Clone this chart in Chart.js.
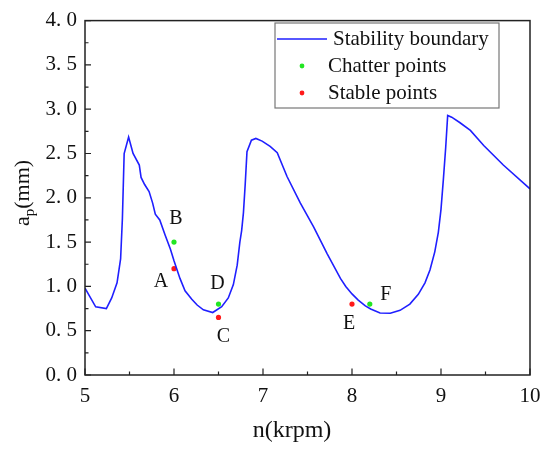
<!DOCTYPE html>
<html>
<head>
<meta charset="utf-8">
<script src="https://cdn.jsdelivr.net/npm/chart.js@4.4.1/dist/chart.umd.min.js"></script>
<style>
  html, body { margin: 0; padding: 0; background: #fff; }
  #chart { display: block; }
</style>
</head>
<body>
<canvas id="chart" width="550" height="452"></canvas>
<script>
// stability lobe
var boundaryN = [5.0, 5.12, 5.24, 5.30, 5.36, 5.40, 5.42, 5.44, 5.49, 5.54, 5.61, 5.63, 5.67, 5.72, 5.76,
  5.79, 5.84, 5.90, 5.96, 6.0, 6.067, 6.124, 6.20, 6.26, 6.33, 6.435, 6.536, 6.61, 6.667, 6.71, 6.74,
  6.76, 6.78, 6.80, 6.82, 6.87, 6.92, 6.99, 7.08, 7.16, 7.27, 7.42, 7.57, 7.72, 7.87, 7.93, 8.00, 8.07,
  8.15, 8.21, 8.315, 8.43, 8.54, 8.65, 8.745, 8.82, 8.876, 8.93, 8.97, 9.0, 9.026, 9.053, 9.075, 9.12,
  9.21, 9.33, 9.48, 9.70, 10.0];
var boundaryAp = [0.98, 0.77, 0.75, 0.87, 1.04, 1.31, 1.76, 2.50, 2.685, 2.50, 2.37, 2.23, 2.15, 2.07, 1.94,
  1.815, 1.75, 1.58, 1.42, 1.29, 1.09, 0.95, 0.855, 0.79, 0.735, 0.705, 0.77, 0.87, 1.02, 1.24, 1.50,
  1.63, 1.83, 2.15, 2.52, 2.65, 2.67, 2.64, 2.58, 2.51, 2.24, 1.94, 1.67, 1.37, 1.09, 1.0, 0.915, 0.845,
  0.78, 0.745, 0.70, 0.697, 0.73, 0.80, 0.91, 1.04, 1.185, 1.39, 1.61, 1.87, 2.20, 2.57, 2.93, 2.91,
  2.85, 2.76, 2.59, 2.37, 2.10];

var chatterN = [6.0, 6.5, 8.2];
var chatterAp = [1.5, 0.8, 0.8];
var chatterNames = ["B", "D", "F"];

var stableN = [6.0, 6.5, 8.0];
var stableAp = [1.2, 0.65, 0.8];
var stableNames = ["A", "C", "E"];

var xTicks = [5, 6, 7, 8, 9, 10];
var yTicks = [0, 0.5, 1, 1.5, 2, 2.5, 3, 3.5, 4];

var serif = "'Liberation Serif', 'Times New Roman', serif";

function toPoints(xs, ys) {
  return xs.map(function (x, i) { return { x: x, y: ys[i] }; });
}

// where each letter sits relative to its dot (px)
var nameOffsets = { A: [-13, 13], B: [2, -23], C: [5, 19], D: [-1, -20], E: [-3, 20], F: [16, -9] };

var framePlugin = {
  id: "frame",
  afterDatasetsDraw: function (chart) {
    var ctx = chart.ctx;
    var a = chart.chartArea;
    var xs = chart.scales.x, ys = chart.scales.y;
    ctx.save();

    // box round the plot
    ctx.strokeStyle = "#222";
    ctx.lineWidth = 1.5;
    ctx.strokeRect(a.left, a.top, a.right - a.left, a.bottom - a.top);

    // inward ticks, left and bottom only
    ctx.lineWidth = 1.2;
    ctx.beginPath();
    for (var v = 0; v <= 4.001; v += 0.25) {
      var py = ys.getPixelForValue(v);
      var major = Math.abs(v * 2 - Math.round(v * 2)) < 0.01;
      ctx.moveTo(a.left, py);
      ctx.lineTo(a.left + (major ? 6 : 3.5), py);
    }
    for (var n = 5; n <= 10.001; n += 0.5) {
      var px = xs.getPixelForValue(n);
      var maj = Math.abs(n - Math.round(n)) < 0.01;
      ctx.moveTo(px, a.bottom);
      ctx.lineTo(px, a.bottom - (maj ? 6.5 : 3.5));
    }
    ctx.stroke();

    // point letters
    ctx.fillStyle = "#111";
    ctx.font = "20px " + serif;
    ctx.textAlign = "center";
    ctx.textBaseline = "middle";
    function letters(nx, ay, names) {
      names.forEach(function (name, i) {
        var off = nameOffsets[name];
        ctx.fillText(name, xs.getPixelForValue(nx[i]) + off[0], ys.getPixelForValue(ay[i]) + off[1]);
      });
    }
    letters(chatterN, chatterAp, chatterNames);
    letters(stableN, stableAp, stableNames);

    // legend
    var ds = chart.data.datasets;
    ctx.fillStyle = "#fff";
    ctx.fillRect(275, 23, 224, 85);
    ctx.strokeStyle = "#777";
    ctx.lineWidth = 1.2;
    ctx.strokeRect(275, 23, 224, 85);

    ctx.strokeStyle = ds[0].borderColor;
    ctx.lineWidth = 1.6;
    ctx.beginPath();
    ctx.moveTo(277, 39);
    ctx.lineTo(327, 39);
    ctx.stroke();

    ctx.fillStyle = ds[1].backgroundColor;
    ctx.beginPath();
    ctx.arc(302, 66, 2.4, 0, Math.PI * 2);
    ctx.fill();
    ctx.fillStyle = ds[2].backgroundColor;
    ctx.beginPath();
    ctx.arc(302, 93, 2.4, 0, Math.PI * 2);
    ctx.fill();

    ctx.fillStyle = "#111";
    ctx.font = "21px " + serif;
    ctx.textAlign = "left";
    ctx.textBaseline = "middle";
    ctx.fillText(ds[0].label, 333, 39);
    ctx.fillText(ds[1].label, 328, 66);
    ctx.fillText(ds[2].label, 328, 93);

    // axis titles
    ctx.textBaseline = "alphabetic";
    ctx.textAlign = "center";
    ctx.font = "24px " + serif;
    ctx.fillText("n(krpm)", 292, 437);

    ctx.translate(29, 193);
    ctx.rotate(-Math.PI / 2);
    ctx.textAlign = "left";
    var big = "22px " + serif, small = "15px " + serif;
    ctx.font = big;
    var wa = ctx.measureText("a").width;
    var wm = ctx.measureText("(mm)").width;
    ctx.font = small;
    var wp = ctx.measureText("p").width;
    var x0 = -(wa + wp + wm) / 2;
    ctx.font = big;
    ctx.fillText("a", x0, 0);
    ctx.font = small;
    ctx.fillText("p", x0 + wa, 5);
    ctx.font = big;
    ctx.fillText("(mm)", x0 + wa + wp, 0);

    ctx.restore();
  }
};

var ctx = document.getElementById("chart").getContext("2d");
var lobeChart = new Chart(ctx, {
  type: "scatter",
  data: {
    datasets: [
      {
        label: "Stability boundary",
        data: toPoints(boundaryN, boundaryAp),
        showLine: true,
        borderColor: "#1f1fff",
        borderWidth: 1.6,
        pointRadius: 0,
        tension: 0,
        fill: false,
      },
      {
        label: "Chatter points",
        data: toPoints(chatterN, chatterAp),
        backgroundColor: "#22e622",
        borderWidth: 0,
        pointRadius: 2.6,
      },
      {
        label: "Stable points",
        data: toPoints(stableN, stableAp),
        backgroundColor: "#ff1a1a",
        borderWidth: 0,
        pointRadius: 2.6,
      },
    ],
  },
  options: {
    responsive: false,
    animation: false,
    devicePixelRatio: 1,
    layout: { padding: { left: 0, right: 20, top: 15, bottom: 0 } },
    plugins: {
      legend: { display: false },
      tooltip: { enabled: false },
    },
    scales: {
      x: {
        type: "linear",
        min: 5,
        max: 10,
        afterBuildTicks: function (s) { s.ticks = xTicks.map(function (v) { return { value: v }; }); },
        afterFit: function (s) { s.height = 77; },
        ticks: { font: { family: serif, size: 21 }, color: "#111", padding: 9, maxRotation: 0 },
        grid: { display: false, drawTicks: false },
        border: { display: false },
      },
      y: {
        min: 0,
        max: 4,
        afterBuildTicks: function (s) { s.ticks = yTicks.map(function (v) { return { value: v }; }); },
        afterFit: function (s) { s.width = 85; },
        ticks: {
          font: { family: serif, size: 21 },
          color: "#111",
          padding: 8,
          callback: function (v) { return v.toFixed(1).replace(".", ". "); },
        },
        grid: { display: false, drawTicks: false },
        border: { display: false },
      },
    },
  },
  plugins: [framePlugin],
});
</script>
</body>
</html>
